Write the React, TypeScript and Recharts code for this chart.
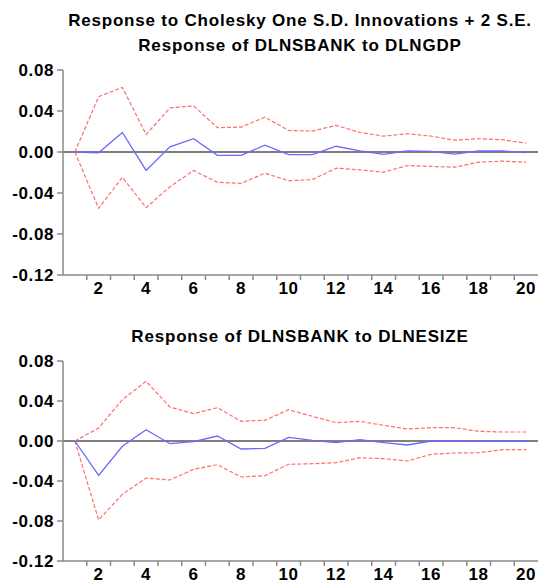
import { Line, LineChart, ReferenceLine, XAxis, YAxis } from "recharts";

const PERIODS = [1, 2, 3, 4, 5, 6, 7, 8, 9, 10, 11, 12, 13, 14, 15, 16, 17, 18, 19, 20];
const X_LABELS = [2, 4, 6, 8, 10, 12, 14, 16, 18, 20];
const X_TICK_MARKS = [1.5, 2.5, 3.5, 4.5, 5.5, 6.5, 7.5, 8.5, 9.5, 10.5, 11.5, 12.5, 13.5, 14.5, 15.5, 16.5, 17.5, 18.5, 19.5];
const Y_TICKS = [-0.12, -0.08, -0.04, 0, 0.04, 0.08];

const MAIN_TITLE = "Response to Cholesky One S.D. Innovations + 2 S.E.";
const GDP_TITLE = "Response of DLNSBANK to DLNGDP";
const ESIZE_TITLE = "Response of DLNSBANK to DLNESIZE";

const GDP_RESP = [0, -0.0007, 0.019, -0.018, 0.005, 0.013, -0.0033, -0.0033, 0.0066, -0.0026, -0.0026, 0.0056, 0.001, -0.0023, 0.001, 0.0007, -0.002, 0.001, 0.001, -0.0007];
const GDP_UPPER = [0, 0.054, 0.063, 0.017, 0.043, 0.045, 0.0237, 0.0243, 0.034, 0.021, 0.0204, 0.026, 0.019, 0.0155, 0.0178, 0.0155, 0.0115, 0.013, 0.012, 0.0086];
const GDP_LOWER = [0, -0.055, -0.0247, -0.0543, -0.0339, -0.0181, -0.0296, -0.0306, -0.0207, -0.028, -0.027, -0.0158, -0.0174, -0.0197, -0.0132, -0.0141, -0.0148, -0.0099, -0.0089, -0.0099];

const ESIZE_RESP = [0, -0.0343, -0.0053, 0.0113, -0.0027, -0.0007, 0.005, -0.008, -0.0073, 0.0037, 0.0007, -0.0017, 0.0013, -0.0017, -0.004, 0, 0.0003, -0.0003, 0, 0];
const ESIZE_UPPER = [0, 0.013, 0.0413, 0.0597, 0.034, 0.0273, 0.0333, 0.0197, 0.0207, 0.0313, 0.0247, 0.0183, 0.0197, 0.0157, 0.012, 0.0133, 0.0133, 0.0097, 0.009, 0.009];
const ESIZE_LOWER = [0, -0.079, -0.0533, -0.037, -0.039, -0.0283, -0.0237, -0.036, -0.0347, -0.0233, -0.0227, -0.0217, -0.0167, -0.0177, -0.02, -0.0133, -0.012, -0.0117, -0.0087, -0.0087];

const FONT = "Arial, 'Liberation Sans', Helvetica, sans-serif";
const AXIS_COLOR = "#8a8a8a";
const BLUE = "#6a6aff";
const RED = "#ff6e6e";

const tickFont = { fontSize: 17, fontWeight: 700, fill: "#000", fontFamily: FONT, letterSpacing: 0.6 };

function Title({ text, center }: { text: string; center: number }) {
  return (
    <div
      style={{
        position: "absolute",
        left: 30,
        width: 540,
        top: center - 10,
        height: 20,
        lineHeight: "20px",
        textAlign: "center",
        fontFamily: FONT,
        fontSize: 17,
        fontWeight: 700,
        letterSpacing: 0.8,
        color: "#000",
        whiteSpace: "nowrap",
      }}
    >
      {text}
    </div>
  );
}

interface PanelProps {
  resp: number[];
  upper: number[];
  lower: number[];
  top: number;
  height: number;
  marginTop: number;
}

function Panel({ resp, upper, lower, top, height, marginTop }: PanelProps) {
  const data = PERIODS.map((p, i) => ({ period: p, resp: resp[i], upper: upper[i], lower: lower[i] }));
  return (
    <div style={{ position: "absolute", left: 0, top }}>
      <LineChart width={542} height={height} data={data} margin={{ top: marginTop, right: 4, bottom: 1, left: 8 }}>
        <XAxis
          xAxisId="b_labels"
          dataKey="period"
          type="number"
          domain={[0.5, 20.5]}
          ticks={X_LABELS}
          tickLine={false}
          axisLine={false}
          tickSize={0}
          tickMargin={1}
          height={18}
          tick={tickFont}
          interval={0}
          allowDataOverflow
        />
        <XAxis
          xAxisId="a_marks"
          dataKey="period"
          type="number"
          domain={[0.5, 20.5]}
          ticks={X_TICK_MARKS}
          tickFormatter={() => ""}
          tickSize={5}
          height={6}
          stroke={AXIS_COLOR}
          strokeWidth={1.5}
          allowDataOverflow
        />
        <XAxis xAxisId="top" orientation="top" type="number" domain={[0.5, 20.5]} height={0} tick={false} tickLine={false} stroke={AXIS_COLOR} strokeWidth={1.5} />
        <YAxis
          yAxisId="left"
          type="number"
          domain={[-0.12, 0.08]}
          ticks={Y_TICKS}
          tickFormatter={(v: number) => v.toFixed(2)}
          tickSize={6}
          tickMargin={3}
          width={55}
          tick={tickFont}
          interval={0}
          stroke={AXIS_COLOR}
          strokeWidth={1.5}
          allowDataOverflow
        />
        <YAxis yAxisId="right" orientation="right" type="number" domain={[-0.12, 0.08]} width={0} tick={false} tickLine={false} stroke={AXIS_COLOR} strokeWidth={1.5} />
        <ReferenceLine xAxisId="b_labels" yAxisId="left" y={0} stroke="#555" strokeWidth={1.5} />
        <Line xAxisId="b_labels" yAxisId="left" dataKey="upper" stroke={RED} strokeWidth={1.2} strokeDasharray="4 2" dot={false} isAnimationActive={false} />
        <Line xAxisId="b_labels" yAxisId="left" dataKey="lower" stroke={RED} strokeWidth={1.2} strokeDasharray="4 2" dot={false} isAnimationActive={false} />
        <Line xAxisId="b_labels" yAxisId="left" dataKey="resp" stroke={BLUE} strokeWidth={1.3} dot={false} isAnimationActive={false} />
      </LineChart>
    </div>
  );
}

export default function App() {
  return (
    <div style={{ position: "absolute", left: 0, top: 0, width: 542, height: 586, background: "#fff", overflow: "hidden" }}>
      <Panel resp={GDP_RESP} upper={GDP_UPPER} lower={GDP_LOWER} top={0} height={300} marginTop={70} />
      <Panel resp={ESIZE_RESP} upper={ESIZE_UPPER} lower={ESIZE_LOWER} top={290} height={296} marginTop={71} />
      <Title text={MAIN_TITLE} center={21} />
      <Title text={GDP_TITLE} center={46} />
      <Title text={ESIZE_TITLE} center={337} />
    </div>
  );
}
